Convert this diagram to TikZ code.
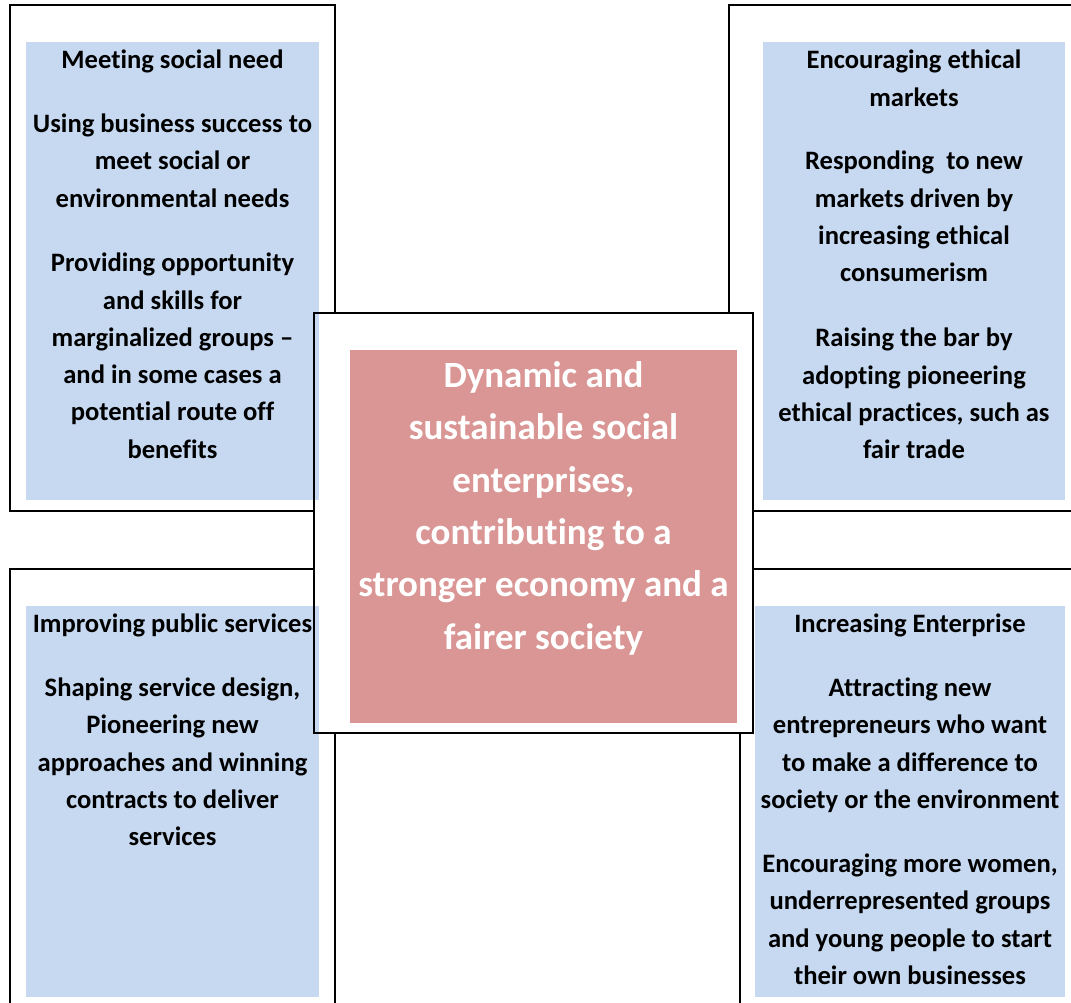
\documentclass[tikz,border=0pt]{standalone}
\usepackage{fontspec}
\setmainfont{Carlito}[Ligatures={NoCommon,NoContextual,NoRequired},RawFeature={-liga;-clig;-calt;-dlig;-rlig}]
\definecolor{boxblue}{HTML}{C6D9F0}
\definecolor{boxpink}{HTML}{D99694}
\begin{document}
\begin{tikzpicture}[x=1pt,y=-1pt,
  frame/.style={draw=black, line width=1.8pt, fill=white, inner sep=0, outer sep=0, anchor=north west},
  panel/.style={draw=none, inner sep=0, outer sep=0, anchor=north west},
  smalltxt/.style={font=\bfseries\fontsize{26.6}{37.25}\selectfont, align=center, inner sep=0, anchor=north, text=black},
  bigtxt/.style={font=\bfseries\fontsize{37}{52.4}\selectfont, align=center, inner sep=0, anchor=north, text=white}]
\clip (0,0) rectangle (1071,1002);
\fill[white] (0,0) rectangle (1071,1002);
% outer frames
\node[frame, minimum width=325, minimum height=506] (tlf) at (10,5) {};
\node[frame, minimum width=361, minimum height=506] (trf) at (729,5) {};
\node[frame, minimum width=325, minimum height=451] (blf) at (10,569) {};
\node[frame, minimum width=350, minimum height=451] (brf) at (740,569) {};
% centre box
\node[frame, draw=none, minimum width=439, minimum height=420] (cf) at (314,313) {};
% blue panels
\node[panel, fill=boxblue, minimum width=293, minimum height=458] (tlp) at (26,42) {};
\node[panel, fill=boxblue, minimum width=302, minimum height=458] (trp) at (763,42) {};
\node[panel, fill=boxblue, minimum width=293, minimum height=391] (blp) at (26,606) {};
\node[panel, fill=boxblue, minimum width=310, minimum height=391] (brp) at (755,606) {};
% pink panel
\node[panel, fill=boxpink, minimum width=387, minimum height=373] (cp) at (350,350) {};
\draw[line width=1.8pt] (cf.north west) rectangle (cf.south east);
% texts
\node[smalltxt] (tlt) at (172.5,42.5) {\strut Meeting social need\\[26.5pt]
Using business success to\\ meet social or\\ environmental needs\\[27.5pt]
Providing opportunity\\ and skills for\\ marginalized groups –\\ and in some cases a\\ potential route off\\ benefits};
\node[smalltxt] (trt) at (914,42.5) {\strut Encouraging ethical\\ markets\\[26.5pt]
Responding\ \ to new\\ markets driven by\\ increasing ethical\\ consumerism\\[28pt]
Raising the bar by\\ adopting pioneering\\ ethical practices, such as\\ fair trade};
\node[smalltxt] (blt) at (172.5,606.5) {\strut Improving public services\\[26.5pt]
Shaping service design,\\ Pioneering new\\ approaches and winning\\ contracts to deliver\\ services};
\node[smalltxt] (brt) at (910,606.5) {\strut Increasing Enterprise\\[26.5pt]
Attracting new\\ entrepreneurs who want\\ to make a difference to\\ society or the environment\\[27pt]
Encouraging more women,\\ underrepresented groups\\ and young people to start\\ their own businesses};
\node[bigtxt] (ct) at (543.5,350.5) {\strut Dynamic and\\ sustainable social\\ enterprises,\\ contributing to a\\ stronger economy and a\\ fairer society};
\end{tikzpicture}
\end{document}
